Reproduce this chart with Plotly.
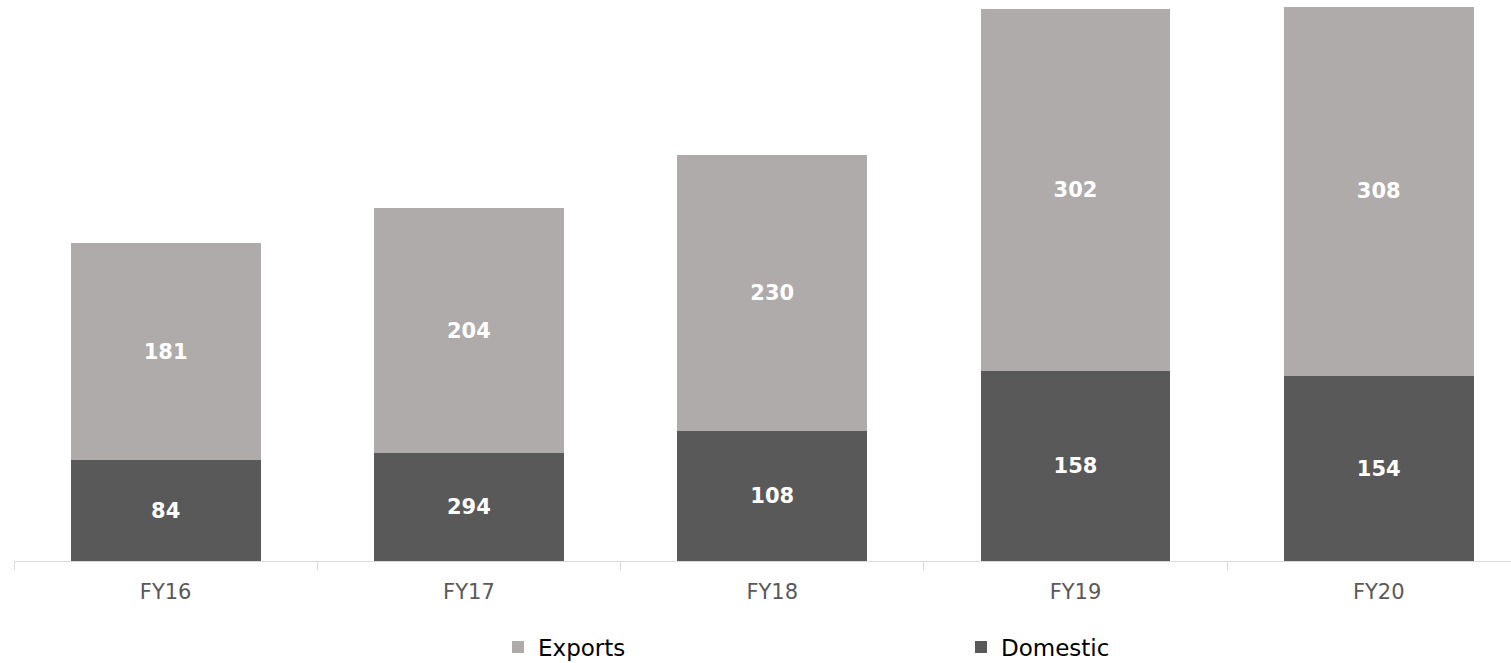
import plotly.graph_objects as go

categories = ["FY16", "FY17", "FY18", "FY19", "FY20"]
domestic = [84, 90, 108, 158, 154]
domestic_labels = ["84", "294", "108", "158", "154"]
exports = [181, 204, 230, 302, 308]
exports_labels = ["181", "204", "230", "302", "308"]

FONT = "DejaVu Sans, Lato, sans-serif"

fig = go.Figure()
fig.add_trace(go.Bar(
    name="Domestic", x=categories, y=domestic, text=domestic_labels,
    texttemplate="%{text}", textposition="inside", insidetextanchor="middle",
    textangle=0, constraintext="none",
    textfont=dict(family=FONT, size=21, color="white", weight="bold"),
    marker=dict(color="#595959", line=dict(width=0)),
    hoverinfo="skip",
))
fig.add_trace(go.Bar(
    name="Exports", x=categories, y=exports, text=exports_labels,
    texttemplate="%{text}", textposition="inside", insidetextanchor="middle",
    textangle=0, constraintext="none",
    textfont=dict(family=FONT, size=21, color="white", weight="bold"),
    marker=dict(color="#AFABAA", line=dict(width=0)),
    hoverinfo="skip",
))

fig.update_layout(
    barmode="stack",
    bargap=0.374,
    width=1511, height=663,
    margin=dict(l=14, r=0, t=0, b=102),
    paper_bgcolor="white", plot_bgcolor="white",
    font=dict(family=FONT, color="#595959"),
    showlegend=True,
    legend=dict(
        orientation="h", traceorder="reversed",
        xref="container", yref="container",
        x=498 / 1511, xanchor="left",
        y=1 - 647 / 663, yanchor="middle",
        entrywidth=418, entrywidthmode="pixels",
        font=dict(family=FONT, size=23, color="#000000"),
        itemclick=False, itemdoubleclick=False,
    ),
    xaxis=dict(
        type="category", range=[-0.5, 4.436],
        showline=True, linecolor="#D9D9D9", linewidth=1,
        ticks="outside", tickson="boundaries", ticklen=8, tickcolor="#D9D9D9",
        ticklabelstandoff=12,
        tickfont=dict(family=FONT, size=21, color="#595959"),
        showgrid=False, zeroline=False, fixedrange=True,
    ),
    yaxis=dict(
        range=[0, 467.5], visible=False, showgrid=False, zeroline=False,
        fixedrange=True,
    ),
)

fig.write_html(
    "out.html",
    config={"displayModeBar": False},
    post_script="document.body.style.margin='0px';",
)
